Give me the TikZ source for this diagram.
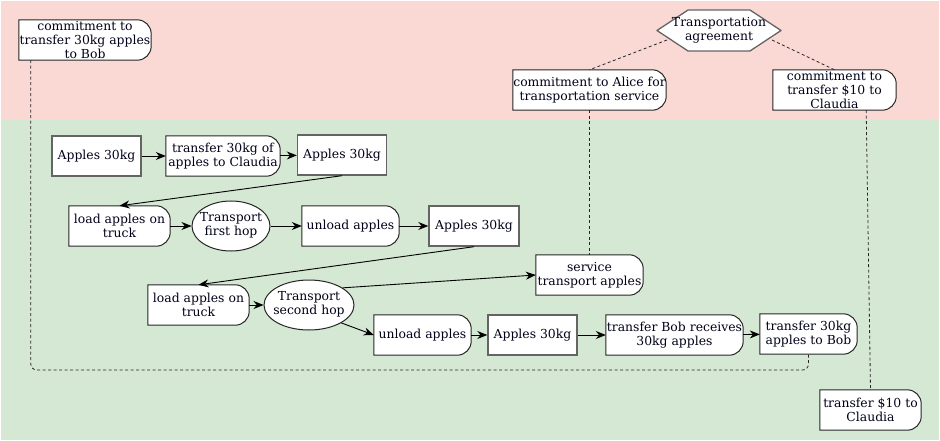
\documentclass[tikz,border=0pt]{standalone}
\usepackage{fontspec}
\setmainfont{DejaVu Serif}
\usetikzlibrary{calc,arrows.meta,shapes.geometric}
\pgfdeclarelayer{bg}
\pgfdeclarelayer{shapes}
\pgfsetlayers{bg,shapes,main}
\definecolor{pinkbg}{RGB}{250,217,213}
\definecolor{greenbg}{RGB}{213,232,212}
\definecolor{rectborder}{RGB}{100,100,100}
\newcommand\elltext[1]{\makebox[0pt]{\begin{tabular}{@{}c@{}}#1\end{tabular}}}
\tikzset{
  txt/.style={font=\fontsize{12.4}{14.2}\selectfont, align=center, inner sep=0pt, text=black!90!blue},
  rectbox/.style={txt, draw=rectborder, line width=1.4pt, fill=white, minimum width=89, minimum height=40},
  hr/.style={txt, draw=none, fill=none, minimum height=40},
  ell/.style={txt, ellipse, draw=black!85, line width=1pt, fill=white, minimum height=50},
  hroutline/.style={draw=black!85, line width=1pt, fill=white},
  arr/.style={-{Stealth[length=10pt,width=8pt]}, line width=0.9pt, black},
  dsh/.style={dash pattern=on 3pt off 2.5pt, line width=0.8pt, black!85},
}
\begin{document}
\begin{tikzpicture}[x=1pt,y=-1pt]
\useasboundingbox (0,0) rectangle (940,441);
\begin{pgfonlayer}{bg}
  \fill[white] (0,0) rectangle (940,441);
  \fill[pinkbg] (1,1) rectangle (939,120);
  \fill[greenbg] (1,120) rectangle (939,440);
\end{pgfonlayer}

% top region
\node[hr, minimum width=132] (cm1) at (85,40) {commitment to\\transfer 30kg apples\\to Bob};
\node[txt] (hex) at (719,30.5) {Transportation\\agreement};
\node[hr, minimum width=153] (c3) at (589.5,90) {commitment to Alice for\\transportation service};
\node[hr, minimum width=123] (c4) at (834.5,90) {commitment to\\transfer \$10 to\\Claudia};

% row 1
\node[rectbox] (a1) at (96.5,156) {Apples 30kg};
\node[hr, minimum width=114] (t1) at (223,156) {transfer 30kg of\\apples to Claudia};
\node[rectbox] (a2) at (342,155) {Apples 30kg};

% row 2
\node[hr, minimum width=101] (l1) at (119.5,226) {load apples on\\truck};
\node[ell, minimum width=78] (e1) at (231,226) {\elltext{Transport\\first hop}};
\node[hr, minimum width=97] (u1) at (350.5,226) {unload apples};
\node[rectbox, minimum width=90] (a3) at (474,226) {Apples 30kg};

% row 3
\node[hr, minimum width=107] (svc) at (589.5,275) {service\\transport apples};
\node[hr, minimum width=101] (l2) at (198.5,305) {load apples on\\truck};
\node[ell, minimum width=90] (e2) at (309,305) {\elltext{Transport\\second hop}};

% row 4
\node[hr, minimum width=97] (u2) at (422.5,335) {unload apples};
\node[rectbox] (a4) at (532.5,335) {Apples 30kg};
\node[hr, minimum width=137] (tb) at (674.5,335) {transfer Bob receives\\30kg apples};
\node[hr, minimum width=97] (t2) at (808.5,334) {transfer 30kg\\apples to Bob};
\node[hr, minimum width=101] (tc) at (870.5,410) {transfer \$10 to\\Claudia};

% outlines of half-rounded boxes and hexagon
\begin{pgfonlayer}{shapes}
  \foreach \n in {cm1,c3,c4,t1,l1,u1,svc,l2,u2,tb,t2,tc}{
    \path[hroutline] (\n.south west) -- (\n.north west)
      -- ($(\n.north east)+(-14,0)$) arc[start angle=-90,end angle=0,radius=14]
      -- ($(\n.south east)+(0,-14)$) arc[start angle=0,end angle=90,radius=14]
      -- cycle;
  }
  \path[draw=rectborder, line width=1.3pt, fill=white, line join=round]
    (657,30.5) -- (688,10) -- (750,10) -- (781,30.5) -- (750,51) -- (688,51) -- cycle;
\end{pgfonlayer}

\coordinate (hexL) at (667,40);
\coordinate (hexR) at (772,40);
\coordinate (cm1s) at ($(cm1.south west)+(12,0)$);
\coordinate (c4s) at ($(c4.south east)+(-30,0)$);
\coordinate (low) at (0,370);

% dashed links
\draw[dsh] (hexL) -- (c3.north);
\draw[dsh] (hexR) -- (c4.north);
\draw[dsh] (c3.south) -- (svc.north);
\draw[dsh] (c4s) -- (tc.north);
\draw[dsh, rounded corners=6pt] (cm1s) -- (cm1s |- low) -- (t2.south |- low) -- (t2.south);

% arrows
\draw[arr] (a1) -- (t1);
\draw[arr] (t1) -- (a2);
\draw[arr] (a2.south) -- (l1.north);
\draw[arr] (l1) -- (e1);
\draw[arr] (e1) -- (u1);
\draw[arr] (u1) -- (a3);
\draw[arr] (a3.south) -- (l2.north);
\draw[arr] (l2) -- (e2);
\draw[arr] (e2.27) -- (svc.west);
\draw[arr] (e2.-29) -- (u2.west);
\draw[arr] (u2) -- (a4);
\draw[arr] (a4) -- (tb);
\draw[arr] (tb) -- (t2);
\end{tikzpicture}
\end{document}
